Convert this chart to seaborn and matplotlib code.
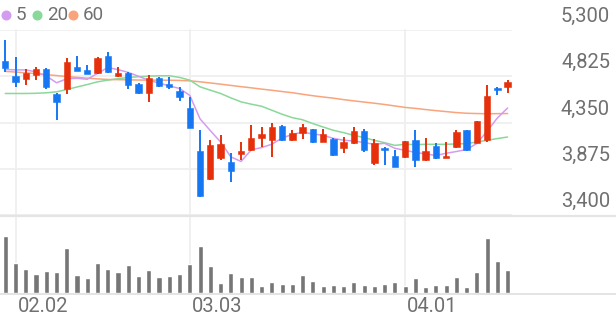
import numpy as np
import pandas as pd
import matplotlib
matplotlib.use("Agg")
import matplotlib.pyplot as plt
import matplotlib.transforms as mtransforms
from matplotlib.lines import Line2D
import seaborn as sns

# ---------------- data ----------------
opens = [4980, 4829, 4795, 4836, 4895, 4641, 4689, 4922, 4891, 4854,
         5035, 4826, 4854, 4741, 4654, 4802, 4741, 4675, 4500, 4057,
         3765, 3989, 3944, 4030, 4064, 4195, 4174, 4315, 4167, 4246,
         4280, 4154, 4180, 4088, 4143, 4263, 3933, 4092, 4002, 3995,
         4167, 3961, 4105, 3989, 4098, 4270, 4143, 4167, 4700, 4716]
highs = [5195, 5025, 4895, 4919, 4905, 4648, 5008, 5032, 4943, 5025,
         5070, 4916, 4870, 4757, 4836, 4813, 4819, 4716, 4613, 4270,
         4174, 4226, 4040, 4150, 4322, 4304, 4349, 4329, 4270, 4339,
         4285, 4288, 4190, 4201, 4304, 4288, 4185, 4095, 4064, 4160,
         4270, 4195, 4143, 4150, 4270, 4275, 4370, 4734, 4710, 4785]
lows = [4867, 4716, 4734, 4785, 4689, 4380, 4638, 4875, 4847, 4845,
        4854, 4813, 4689, 4641, 4562, 4716, 4689, 4572, 4290, 3580,
        3760, 3968, 3738, 3961, 4057, 4098, 3995, 4157, 4157, 4185,
        4140, 4150, 4005, 4036, 4130, 4050, 3910, 3910, 3888, 3990,
        3892, 3955, 3975, 3985, 4090, 4060, 4140, 4150, 4630, 4658]
closes = [4910, 4761, 4860, 4898, 4710, 4562, 4967, 4881, 4850, 5012,
          4864, 4860, 4734, 4654, 4802, 4723, 4710, 4613, 4294, 3593,
          4123, 4126, 3851, 4057, 4195, 4229, 4304, 4167, 4246, 4304,
          4146, 4229, 4012, 4150, 4263, 4064, 4140, 4064, 3892, 4160,
          3961, 4057, 3985, 4009, 4250, 4064, 4363, 4620, 4682, 4768]
ma5 = [4895, 4890, 4890, 4870, 4828, 4758, 4799, 4804, 4794, 4854,
       4915, 4893, 4864, 4825, 4783, 4755, 4725, 4700, 4628, 4387,
       4267, 4150, 3997, 3950, 4070, 4092, 4127, 4190, 4228, 4250,
       4233, 4218, 4187, 4168, 4160, 4144, 4126, 4136, 4085, 4064,
       4043, 4027, 4011, 4034, 4052, 4073, 4134, 4261, 4396, 4499]
ma20 = [4648, 4648, 4648, 4650, 4655, 4665, 4689, 4715, 4740, 4768,
        4785, 4800, 4813, 4820, 4826, 4830, 4830, 4813, 4785, 4716,
        4682, 4648, 4603, 4562, 4538, 4517, 4476, 4435, 4400, 4378,
        4339, 4304, 4270, 4246, 4218, 4195, 4167, 4143, 4115, 4126,
        4123, 4126, 4126, 4126, 4130, 4133, 4150, 4167, 4185, 4201]
ma60 = [4875, 4868, 4860, 4852, 4842, 4832, 4822, 4813, 4805, 4798,
        4792, 4790, 4788, 4786, 4785, 4785, 4784, 4782, 4778, 4768,
        4756, 4744, 4731, 4718, 4706, 4693, 4681, 4668, 4656, 4640,
        4625, 4612, 4600, 4585, 4572, 4560, 4548, 4535, 4520, 4505,
        4495, 4483, 4472, 4462, 4452, 4445, 4442, 4440, 4441, 4442]
volume = [576, 300, 243, 193, 223, 216, 453, 183, 150, 300,
          240, 210, 280, 173, 236, 166, 176, 190, 290, 473,
          273, 103, 200, 160, 160, 73, 110, 93, 93, 180,
          126, 73, 83, 70, 116, 83, 73, 90, 110, 73,
          150, 60, 83, 83, 160, 60, 210, 556, 326, 233]
tick_pos = [1, 18, 39]
tick_labels = ["02.02", "03.03", "04.01"]
price_ticks = [5300, 4825, 4350, 3875, 3400]
legend_labels = ["5", "20", "60"]

# ---------------- style ----------------
UP = "#e5300b"
DOWN = "#1677f2"
C5 = "#d49cf0"
C20 = "#8ad89a"
C60 = "#f9a47c"
GRID = "#efefef"
TXT = "#707070"

sns.set_theme(style="white")
plt.rcParams["font.family"] = ["Roboto", "DejaVu Sans"]

W, H = 616, 321
fig = plt.figure(figsize=(W / 100, H / 100), dpi=100)
fig.patch.set_facecolor("white")

def fx(px):
    return px / W

def fy(py):
    return 1 - py / H

n = len(closes)
idx = np.arange(n)
x0, x1 = -0.517, 49.43

axp = fig.add_axes([0, fy(215), fx(512), (215 - 30) / H])
axv = fig.add_axes([0, fy(293.3), fx(512), (293.3 - 225) / H])

for ax in (axp, axv):
    ax.set_facecolor("none")
    for s in ax.spines.values():
        s.set_visible(False)
    ax.set_xticks([])
    ax.set_yticks([])
    ax.set_xlim(x0, x1)

axp.set_ylim(3400, 5300)
for p in price_ticks:
    axp.axhline(p, color=GRID, lw=1.3, zorder=0)

df = pd.DataFrame({"i": idx, "open": opens, "high": highs, "low": lows,
                   "close": closes, "ma5": ma5, "ma20": ma20, "ma60": ma60,
                   "volume": volume})

# moving averages
sns.lineplot(data=df, x="i", y="ma60", ax=axp, color=C60, lw=1.1, zorder=2)
sns.lineplot(data=df, x="i", y="ma20", ax=axp, color=C20, lw=1.1, zorder=2)
sns.lineplot(data=df, x="i", y="ma5", ax=axp, color=C5, lw=1.1, zorder=2)

# candles
up = df["close"] >= df["open"]
cols = np.where(up, UP, DOWN)
axp.vlines(df["i"], df["low"], df["high"], colors=cols, lw=1.4, zorder=3)
bottom = np.minimum(df["open"], df["close"])
height = np.maximum(np.abs(df["close"] - df["open"]), 12)
axp.bar(df["i"], height, bottom=bottom, width=0.62, color=cols,
        edgecolor=cols, linewidth=0.4, zorder=4)
axp.set_xlim(x0, x1)
axp.set_ylim(3400, 5300)
axp.set_xlabel("")
axp.set_ylabel("")

# volume
sns.barplot(data=df, x="i", y="volume", ax=axv, color="#767676",
            saturation=1, width=0.5, native_scale=True, zorder=2)
axv.set_xlim(x0, x1)
axv.set_ylim(0, 683)
axv.set_xlabel("")
axv.set_ylabel("")
axv.set_xticks([])
axv.set_yticks([])

# vertical grid lines spanning both panels
trans = mtransforms.blended_transform_factory(axp.transData, fig.transFigure)
for t in tick_pos:
    fig.add_artist(Line2D([t, t], [fy(293.3), fy(30)], transform=trans,
                          color=GRID, lw=1.3, zorder=0))

# separators
fig.add_artist(Line2D([0, 1], [fy(215.5), fy(215.5)], transform=fig.transFigure,
                      color="#e4e4e4", lw=1.6))
fig.add_artist(Line2D([0, 1], [fy(293.8), fy(293.8)], transform=fig.transFigure,
                      color="#e4e4e4", lw=1.4))

# price labels on the right
for p in price_ticks:
    gy = 30 + (5300 - p) / 1900 * 185
    fig.text(fx(610), fy(gy - 13.5), f"{p:,}", ha="right", va="center",
             fontsize=14.5, color=TXT)

# date labels
for t, lab in zip(tick_pos, tick_labels):
    fig.text(fx(5.3 + 10.25 * t + 2), fy(307), lab, ha="left", va="center",
             fontsize=14.5, color=TXT)

# legend
for cx, tx, lab, c in zip([5.5, 37, 73], [16, 47, 83], legend_labels, [C5, C20, C60]):
    fig.add_artist(Line2D([fx(cx)], [fy(15)], transform=fig.transFigure,
                          marker="o", markersize=6.2, color=c, lw=0))
    fig.text(fx(tx), fy(15), lab, ha="left", va="center", fontsize=13.5,
             color=TXT)

fig.savefig("out.png", dpi=100, facecolor="white")
